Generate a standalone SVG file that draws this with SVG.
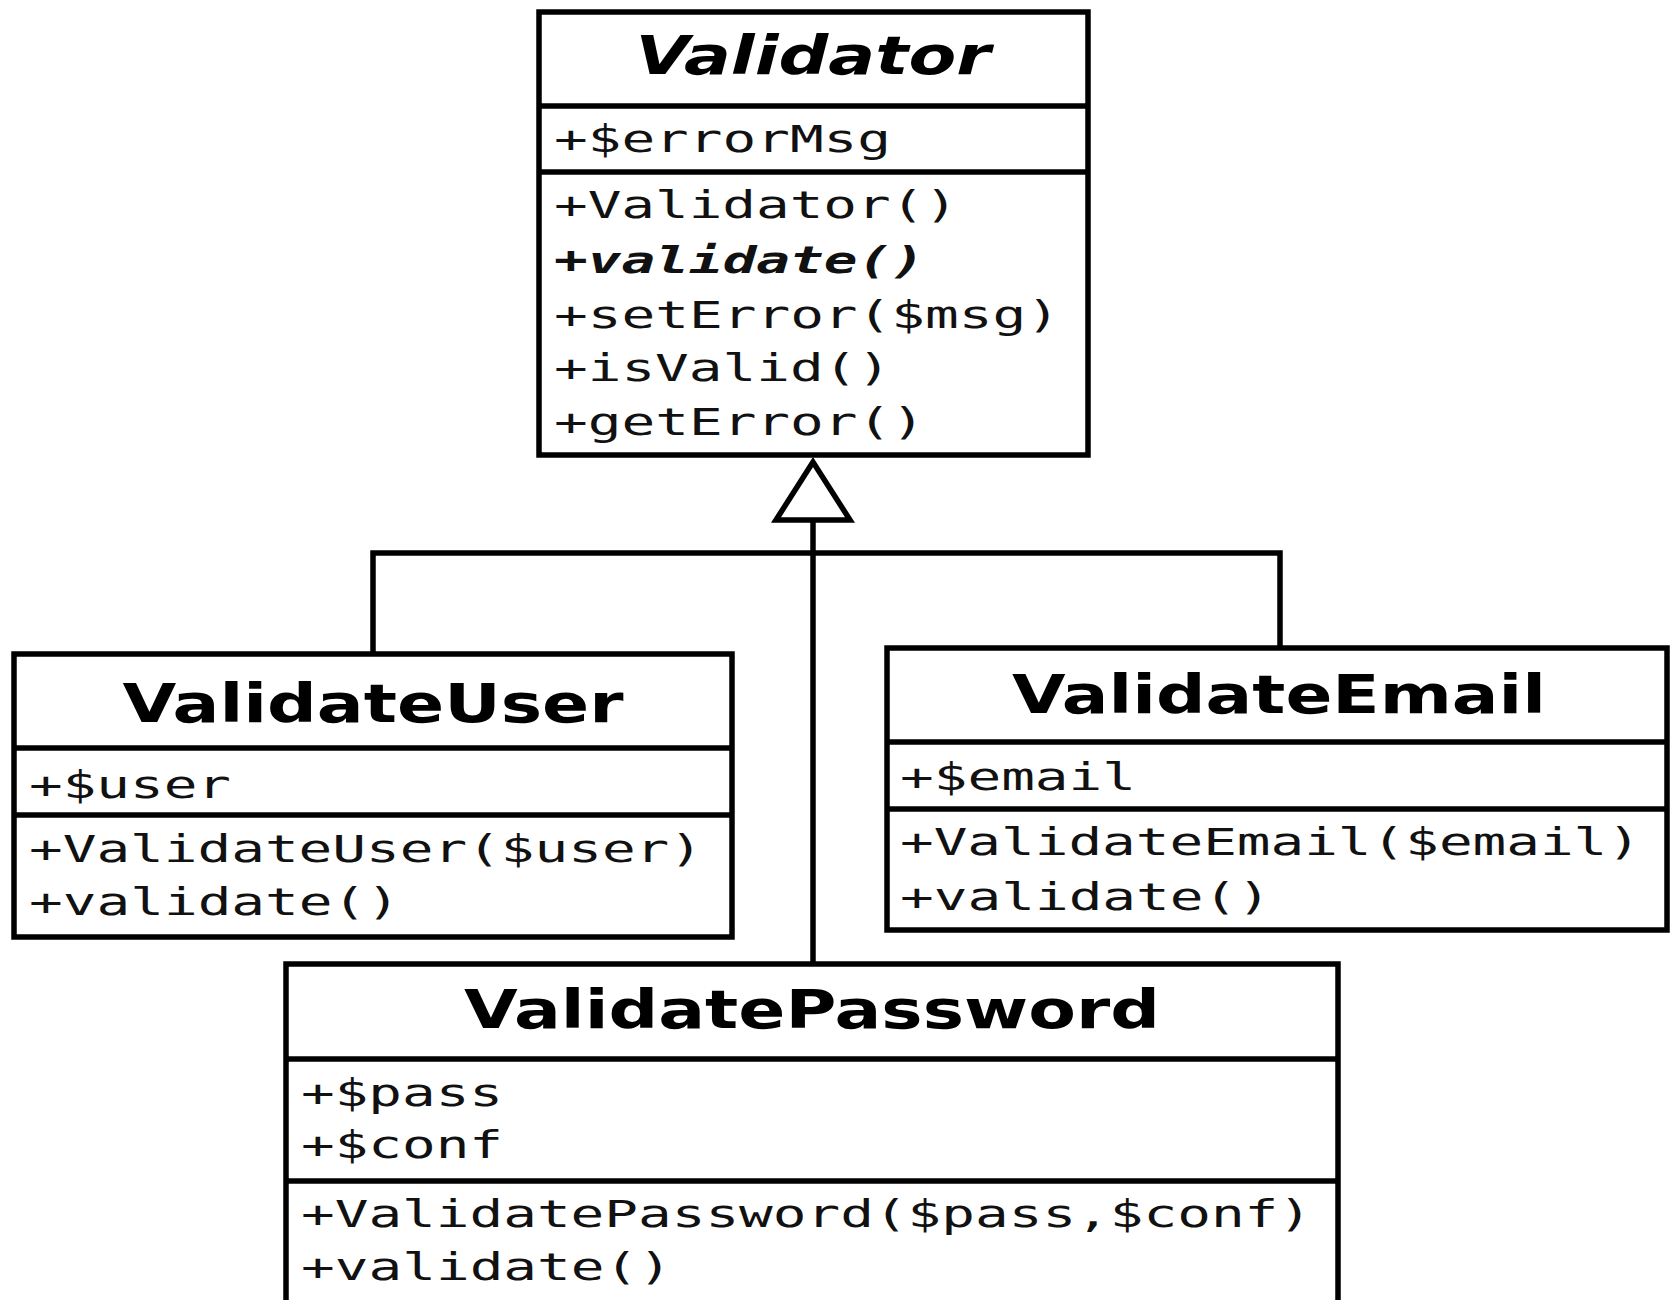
<svg xmlns="http://www.w3.org/2000/svg" width="1670" height="1300" viewBox="0 0 1670 1300">
<style>
.box{fill:#fff;stroke:#000;stroke-width:5.5}
.div{stroke:#000;stroke-width:5.5}
.title{font-family:"DejaVu Sans",sans-serif;font-weight:bold;font-size:54px;text-anchor:middle;fill:#000}
.mem{font-family:"DejaVu Sans Mono",monospace;font-size:37px;fill:#111}
.conn{fill:none;stroke:#000;stroke-width:5.5}
</style>
<rect width="1670" height="1300" fill="#fff"/>
<g id="connectors">
<polyline class="conn" points="373,655 373,553 1280,553 1280,648"/>
<line class="conn" x1="813" y1="520" x2="813" y2="965"/>
<polygon points="813,462 776,520 850,520" fill="#fff" stroke="#000" stroke-width="5.5" stroke-linejoin="miter"/>
</g>
<g id="Validator">
<rect class="box" x="539" y="12" width="549" height="443"/>
<line class="div" x1="539" y1="106" x2="1088" y2="106"/>
<line class="div" x1="539" y1="172" x2="1088" y2="172"/>
<text class="title" x="813" y="74" font-style="italic" textLength="355" lengthAdjust="spacingAndGlyphs">Validator</text>
<text class="mem" x="554" y="152" textLength="337" lengthAdjust="spacingAndGlyphs">+$errorMsg</text>
<text class="mem" x="554" y="218" textLength="404" lengthAdjust="spacingAndGlyphs">+Validator()</text>
<text class="mem" x="554" y="273" textLength="371" lengthAdjust="spacingAndGlyphs" font-weight="bold" font-style="italic">+validate()</text>
<text class="mem" x="554" y="328" textLength="506" lengthAdjust="spacingAndGlyphs">+setError($msg)</text>
<text class="mem" x="554" y="381" textLength="337" lengthAdjust="spacingAndGlyphs">+isValid()</text>
<text class="mem" x="554" y="435" textLength="371" lengthAdjust="spacingAndGlyphs">+getError()</text>
</g>
<g id="ValidateUser">
<rect class="box" x="14" y="654" width="718" height="283"/>
<line class="div" x1="14" y1="748" x2="732" y2="748"/>
<line class="div" x1="14" y1="815" x2="732" y2="815"/>
<text class="title" x="373" y="722" textLength="501" lengthAdjust="spacingAndGlyphs">ValidateUser</text>
<text class="mem" x="29" y="798" textLength="202" lengthAdjust="spacingAndGlyphs">+$user</text>
<text class="mem" x="29" y="862" textLength="674" lengthAdjust="spacingAndGlyphs">+ValidateUser($user)</text>
<text class="mem" x="29" y="915" textLength="371" lengthAdjust="spacingAndGlyphs">+validate()</text>
</g>
<g id="ValidateEmail">
<rect class="box" x="887" y="648" width="780" height="282"/>
<line class="div" x1="887" y1="742" x2="1667" y2="742"/>
<line class="div" x1="887" y1="809" x2="1667" y2="809"/>
<text class="title" x="1279" y="713" textLength="534" lengthAdjust="spacingAndGlyphs">ValidateEmail</text>
<text class="mem" x="900" y="790" textLength="236" lengthAdjust="spacingAndGlyphs">+$email</text>
<text class="mem" x="900" y="855" textLength="741" lengthAdjust="spacingAndGlyphs">+ValidateEmail($email)</text>
<text class="mem" x="900" y="910" textLength="371" lengthAdjust="spacingAndGlyphs">+validate()</text>
</g>
<g id="ValidatePassword">
<rect class="box" x="286" y="964" width="1052" height="360"/>
<line class="div" x1="286" y1="1059" x2="1338" y2="1059"/>
<line class="div" x1="286" y1="1181" x2="1338" y2="1181"/>
<text class="title" x="812" y="1028" textLength="696" lengthAdjust="spacingAndGlyphs">ValidatePassword</text>
<text class="mem" x="301" y="1106" textLength="202" lengthAdjust="spacingAndGlyphs">+$pass</text>
<text class="mem" x="301" y="1158" textLength="202" lengthAdjust="spacingAndGlyphs">+$conf</text>
<text class="mem" x="301" y="1227" textLength="1011" lengthAdjust="spacingAndGlyphs">+ValidatePassword($pass,$conf)</text>
<text class="mem" x="301" y="1280" textLength="371" lengthAdjust="spacingAndGlyphs">+validate()</text>
</g>
</svg>
